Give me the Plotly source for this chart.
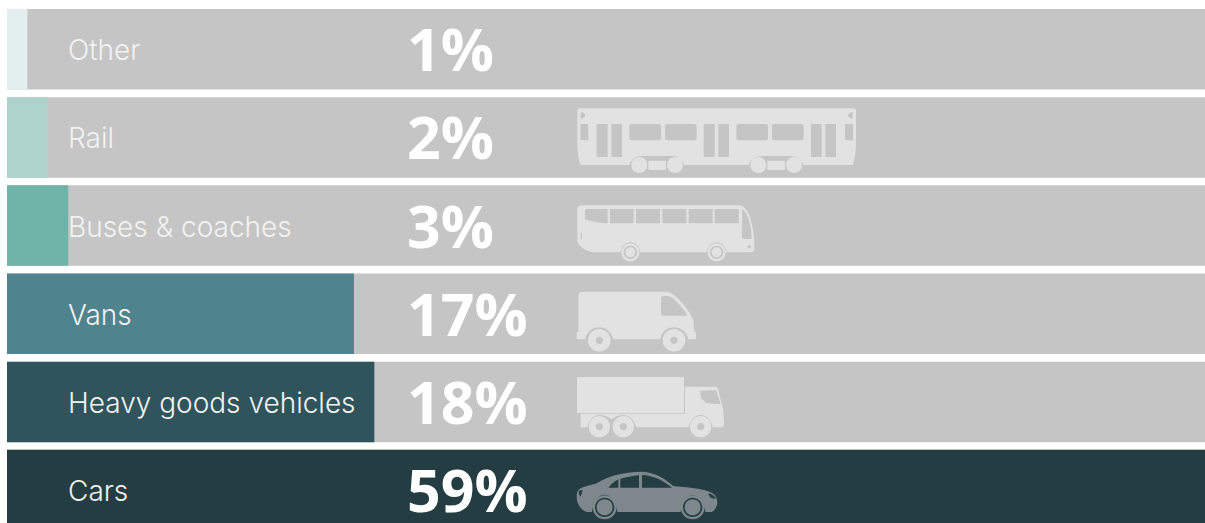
import plotly.graph_objects as go

categories = ["Other", "Rail", "Buses & coaches", "Vans", "Heavy goods vehicles", "Cars"]
shares = [1, 2, 3, 17, 18, 59]
colors = ["#e3efed", "#aed2cc", "#6fb3a9", "#4f838d", "#30545c", "#233d42"]
percent_labels = [f"{v}%" for v in shares]

TRACK = "#c5c5c5"
ICON = "#e2e2e2"
CAR = "#7d878c"
W, H = 1205, 523
LEFT = 7
X_RANGE = [0, 58.7]
PITCH = 88.15
FIRST_CENTER = 49.3
PX = (X_RANGE[1] - X_RANGE[0]) / (W - LEFT)


def circle(cx, cy, r):
    k = 0.5523 * r
    return (f"M {cx-r} {cy} C {cx-r} {cy-k} {cx-k} {cy-r} {cx} {cy-r} "
            f"C {cx+k} {cy-r} {cx+r} {cy-k} {cx+r} {cy} "
            f"C {cx+r} {cy+k} {cx+k} {cy+r} {cx} {cy+r} "
            f"C {cx-k} {cy+r} {cx-r} {cy+k} {cx-r} {cy} Z ")


def rect(x0, x1, y0, y1, r=0):
    if not r:
        return f"M {x0} {y0} L {x1} {y0} L {x1} {y1} L {x0} {y1} Z "
    return (f"M {x0+r} {y0} L {x1-r} {y0} Q {x1} {y0} {x1} {y0+r} L {x1} {y1-r} Q {x1} {y1} {x1-r} {y1} "
            f"L {x0+r} {y1} Q {x0} {y1} {x0} {y1-r} L {x0} {y0+r} Q {x0} {y0} {x0+r} {y0} Z ")


def icon_shape(path, ox, oy, fill):
    """Path is drawn in 3x crop units; place it at pixel origin (ox, oy)."""
    toks = path.split()
    out, is_x = [], True
    for t in toks:
        if t.isalpha():
            out.append(t)
            is_x = True
        else:
            v = float(t)
            if is_x:
                out.append(f"{ox + v / 3 - LEFT:.2f}")
            else:
                out.append(f"{-(oy + v / 3):.2f}")
            is_x = not is_x
    return dict(type="path", path=" ".join(out), xref="paper", yref="paper",
                xsizemode="pixel", ysizemode="pixel", xanchor=0, yanchor=1,
                fillcolor=fill, line=dict(width=0), layer="above")


shapes = []

# Train
train = ("M 60 40 L 880 40 Q 888 40 888 48 L 888 150 Q 886 190 878 210 L 730 210 C 725 195 710 183 690 183 "
         "L 610 183 C 585 183 570 195 565 210 L 373 210 C 368 195 355 183 335 183 L 245 183 "
         "C 225 183 212 195 208 210 L 62 210 Q 52 190 52 150 L 52 48 Q 52 40 60 40 Z ")
train += "M 62 50 Q 76 54 76 61 Q 76 68 62 72 Z M 878 50 Q 864 54 864 61 Q 864 68 878 72 Z "
train += rect(61, 85, 87, 136, 4) + rect(855, 879, 87, 136, 4)
for a, b in [(110, 143), (154, 186), (431, 464), (475, 507), (753, 785), (796, 828)]:
    train += rect(a, b, 87, 186)
for a, b in [(208, 303), (315, 410), (529, 624), (636, 731)]:
    train += rect(a, b, 87, 136, 7)
shapes.append(icon_shape(train, 560, 95, ICON))
shapes.append(icon_shape(rect(265, 318, 197, 225) + rect(622, 675, 197, 225), 560, 95, ICON))
shapes.append(icon_shape(circle(238, 210, 24) + circle(345, 210, 24) + circle(595, 210, 24) + circle(702, 210, 24),
                         560, 95, ICON))

# Coach
bus = ("M 65 331 L 540 331 C 565 335 580 385 583 440 L 583 462 Q 583 472 572 472 L 499 472 C 497 453 485 442 470 442 "
       "C 455 442 443 453 441 472 L 240 472 C 238 453 226 442 211 442 C 196 442 184 453 182 472 L 105 472 "
       "C 80 470 60 458 52 440 L 52 345 Q 52 331 65 331 Z ")
bus += "M 80 342 L 143 342 L 143 385 C 120 385 95 380 75 373 L 75 348 Q 75 342 80 342 Z "
for a, b in [(150, 221), (228, 300), (307, 379), (386, 458), (464, 536)]:
    bus += rect(a, b, 342, 385)
bus += "M 547 342 C 565 355 575 395 575 432 L 553 432 Q 546 432 546 425 Z "
bus += circle(568, 455, 5) + rect(62, 66, 413, 433)
shapes.append(icon_shape(bus, 560, 95, ICON))
shapes.append(icon_shape(circle(211, 472, 27) + circle(211, 472, 20) + circle(211, 472, 15), 560, 95, ICON))
shapes.append(icon_shape(circle(470, 472, 27) + circle(470, 472, 20) + circle(470, 472, 15), 560, 95, ICON))

# Van
van = ("M 70 65 L 320 65 C 345 68 385 115 400 150 L 403 185 L 408 187 L 408 203 Q 408 208 402 208 L 385 208 "
       "C 380 186 362 172 342 172 C 322 172 305 186 300 208 L 160 208 C 155 186 138 172 118 172 "
       "C 98 172 80 186 76 208 L 55 208 Q 50 208 50 203 L 50 187 L 55 185 L 55 80 Q 55 65 70 65 Z ")
van += ("M 310 78 L 325 78 C 340 80 370 115 383 137 L 312 137 Q 303 137 303 128 L 303 85 Q 303 78 310 78 Z ")
shapes.append(icon_shape(van, 560, 270, ICON))
shapes.append(icon_shape(circle(118, 211, 34) + circle(118, 211, 11), 560, 270, ICON))
shapes.append(icon_shape(circle(342, 211, 34) + circle(342, 211, 11), 560, 270, ICON))

# Truck
truck = rect(51, 372, 321, 429)
truck += ("M 62 431 L 375 431 L 375 350 L 465 350 Q 472 350 474 356 L 490 420 L 492 462 Q 492 472 482 472 L 458 472 "
          "C 453 447 438 435 422 435 C 406 435 391 447 386 472 L 228 472 C 223 447 206 435 190 435 "
          "C 175 435 162 441 154 449 C 146 441 133 435 118 435 C 102 435 87 447 82 472 L 62 472 Z ")
truck += "M 420 362 L 468 360 L 482 403 L 440 400 L 423 385 Z "
shapes.append(icon_shape(truck, 560, 270, ICON))
for cx in (118, 190, 422):
    shapes.append(icon_shape(circle(cx, 470, 32) + circle(cx, 470, 11), 560, 270, ICON))

# Car
car = ("M 55 660 C 65 650 95 645 110 640 C 140 620 190 605 245 605 C 290 607 320 630 340 648 "
       "C 380 652 430 655 455 668 C 465 672 472 685 472 695 C 472 705 468 720 455 726 L 436 726 "
       "C 432 692 415 676 398 676 C 380 676 366 692 362 726 L 172 726 C 168 692 150 674 134 674 "
       "C 115 674 100 692 96 726 L 80 726 C 62 720 50 700 50 680 C 50 670 52 663 55 660 Z ")
car += "M 145 653 C 155 640 165 633 175 628 L 175 653 Z "
car += "M 181 653 L 181 627 C 195 622 220 618 237 616 L 237 653 Z "
car += "M 246 615 C 280 615 315 635 336 653 L 246 653 Z "
car += "M 445 670 C 455 672 465 678 468 686 L 455 685 C 450 682 445 675 445 670 Z "
car += "M 56 662 L 68 660 L 62 680 Q 55 675 56 662 Z "
shapes.append(icon_shape(car, 560, 270, CAR))
for cx in (134, 398):
    shapes.append(icon_shape(circle(cx, 712, 36) + circle(cx, 712, 29) + circle(cx, 712, 24), 560, 270, CAR))

fig = go.Figure()
fig.add_bar(y=categories, x=[max(shares)] * len(shares), orientation="h", marker=dict(color=TRACK, line_width=0),
            hoverinfo="skip", showlegend=False)
fig.add_bar(y=categories, x=shares, orientation="h", marker=dict(color=colors, line_width=0),
            showlegend=False)

annotations = []
for cat, pct in zip(categories, percent_labels):
    annotations.append(dict(x=(66 - LEFT) * PX, y=cat, text=cat, showarrow=False, xanchor="left", yanchor="middle",
                            yshift=-1, font=dict(family="Inter", size=28, color="#f2f2f2", weight=300)))
    annotations.append(dict(x=(405 - LEFT) * PX, y=cat, text=pct, showarrow=False, xanchor="left", yanchor="middle",
                            yshift=1, font=dict(family="Open Sans", size=59, color="#ffffff", weight=700)))

fig.update_layout(
    width=W, height=H,
    margin=dict(l=LEFT, r=0, t=0, b=0),
    barmode="overlay",
    bargap=0.087,
    paper_bgcolor="#ffffff",
    plot_bgcolor="#ffffff",
    shapes=shapes,
    annotations=annotations,
    xaxis=dict(range=X_RANGE, visible=False, fixedrange=True),
    yaxis=dict(type="category", categoryorder="array", categoryarray=categories,
               range=[(H - FIRST_CENTER) / PITCH, -FIRST_CENTER / PITCH],
               visible=False, fixedrange=True),
)
fig.write_html("out.html", config={"displayModeBar": False},
               post_script="document.body.style.margin='0';document.body.style.overflow='hidden';")
